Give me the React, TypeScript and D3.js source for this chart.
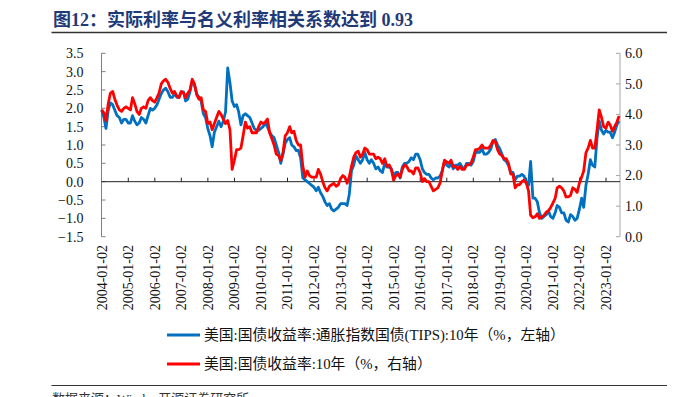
import React from "react";
import * as d3 from "d3";

const TITLE = "图12：实际利率与名义利率相关系数达到 0.93";
const SOURCE = "数据来源：Wind，开源证券研究所";
const SERIES_NAMES = [
  "美国:国债收益率:通胀指数国债(TIPS):10年（%，左轴）",
  "美国:国债收益率:10年（%，右轴）",
];
const X_TICK_LABELS = [
  "2004-01-02", "2005-01-02", "2006-01-02", "2007-01-02", "2008-01-02",
  "2009-01-02", "2010-01-02", "2011-01-02", "2012-01-02", "2013-01-02",
  "2014-01-02", "2015-01-02", "2016-01-02", "2017-01-02", "2018-01-02",
  "2019-01-02", "2020-01-02", "2021-01-02", "2022-01-02", "2023-01-02",
];
const LEFT_TICKS = [3.5, 3.0, 2.5, 2.0, 1.5, 1.0, 0.5, 0.0, -0.5, -1.0, -1.5];
const RIGHT_TICKS = [6, 5, 4, 3, 2, 1, 0];

// monthly observations starting 2004-01
const START_MONTH = "2004-01-01";

// 10Y TIPS real yield (left axis)
const tipsValues = [
  1.95, 1.75, 1.45, 1.95, 2.15, 2.1, 1.95, 1.8, 1.75, 1.6, 1.7, 1.7,
  1.6, 1.6, 1.8, 1.65, 1.55, 1.6, 1.75, 1.7, 1.6, 1.8, 2.0, 1.95,
  2.0, 2.1, 2.25, 2.4, 2.5, 2.55, 2.45, 2.3, 2.3, 2.4, 2.3, 2.3,
  2.45, 2.45, 2.2, 2.25, 2.45, 2.75, 2.65, 2.4, 2.3, 2.2, 1.85, 1.75,
  1.45, 1.25, 0.95, 1.35, 1.5, 1.65, 1.5, 1.65, 1.9, 3.1, 2.7, 2.2,
  2.05, 2.1, 1.9, 1.55, 1.8, 1.85, 1.8, 1.75, 1.6, 1.45, 1.4, 1.4,
  1.45, 1.5, 1.6, 1.5, 1.35, 1.25, 1.2, 1.0, 0.8, 0.5, 0.75, 1.05,
  1.15, 1.2, 1.0, 0.95, 0.85, 0.85, 0.65, 0.1, 0.05, 0.0, -0.05, -0.1,
  -0.15, -0.25, -0.15, -0.3, -0.4, -0.55, -0.65, -0.6, -0.75, -0.8, -0.75, -0.7,
  -0.6, -0.6, -0.6, -0.65, -0.35, 0.3, 0.45, 0.7, 0.6, 0.5, 0.6, 0.8,
  0.6, 0.5, 0.6, 0.5, 0.35, 0.4, 0.3, 0.25, 0.5, 0.4, 0.4, 0.35,
  0.15, 0.25, 0.25, 0.1, 0.4, 0.5, 0.5, 0.55, 0.65, 0.6, 0.75, 0.75,
  0.6, 0.35, 0.25, 0.2, 0.2, 0.1, 0.05, 0.1, 0.1, 0.15, 0.3, 0.55,
  0.45, 0.4, 0.5, 0.35, 0.45, 0.45, 0.5, 0.4, 0.35, 0.5, 0.5, 0.45,
  0.55, 0.8, 0.8, 0.8, 0.9, 0.75, 0.75, 0.8, 0.9, 1.1, 1.15, 1.0,
  0.9, 0.75, 0.6, 0.55, 0.45, 0.25, 0.25, 0.05, 0.15, 0.15, 0.2, 0.15,
  0.0, -0.1, 0.55, -0.45, -0.45, -0.55, -0.85, -1.0, -0.95, -0.9, -0.8, -0.95,
  -1.0, -0.85, -0.65, -0.7, -0.85, -0.85, -1.05, -1.1, -0.9, -0.95, -1.05, -1.0,
  -0.75, -0.45, -0.7, -0.1, 0.2, 0.6, 0.45, 0.4, 1.2, 1.65, 1.4, 1.3,
  1.4, 1.35, 1.35, 1.2, 1.35, 1.55, 1.65,
];

// 10Y nominal Treasury yield (right axis)
const nominalValues = [
  4.15, 4.05, 3.8, 4.35, 4.7, 4.75, 4.5, 4.3, 4.15, 4.1, 4.2, 4.25,
  4.2, 4.15, 4.55, 4.35, 4.1, 4.0, 4.2, 4.25, 4.2, 4.45, 4.55, 4.45,
  4.4, 4.55, 4.7, 5.0, 5.1, 5.15, 5.05, 4.85, 4.7, 4.75, 4.6, 4.55,
  4.75, 4.7, 4.55, 4.7, 4.8, 5.15, 5.0, 4.65, 4.5, 4.55, 4.15, 4.1,
  3.7, 3.75, 3.5, 3.7, 3.9, 4.1, 4.0, 3.85, 3.7, 3.8, 3.5, 2.2,
  2.5, 2.85, 2.85, 2.9, 3.3, 3.75, 3.55, 3.6, 3.4, 3.4, 3.4, 3.6,
  3.75, 3.7, 3.75, 3.85, 3.4, 3.2, 3.0, 2.7, 2.65, 2.5, 2.75, 3.3,
  3.4, 3.6, 3.4, 3.45, 3.15, 3.0, 3.0, 2.3, 1.95, 2.15, 2.0, 1.95,
  1.95, 1.95, 2.2, 2.05, 1.8, 1.6, 1.5, 1.65, 1.7, 1.75, 1.65, 1.7,
  1.9, 2.0, 1.95, 1.75, 1.95, 2.3, 2.6, 2.75, 2.8, 2.6, 2.7, 2.9,
  2.85, 2.7, 2.7, 2.7, 2.55, 2.6, 2.55, 2.4, 2.55, 2.3, 2.35, 2.2,
  1.85, 2.0, 2.05, 1.95, 2.2, 2.35, 2.3, 2.15, 2.15, 2.05, 2.25, 2.25,
  2.1, 1.8, 1.9, 1.8, 1.8, 1.65, 1.5, 1.55, 1.6, 1.75, 2.15, 2.5,
  2.45, 2.4, 2.5, 2.3, 2.3, 2.2, 2.3, 2.2, 2.2, 2.35, 2.35, 2.4,
  2.6, 2.85, 2.85, 2.9, 3.0, 2.9, 2.9, 2.9, 3.0, 3.15, 3.1, 2.85,
  2.7, 2.65, 2.55, 2.55, 2.4, 2.05, 2.05, 1.6, 1.7, 1.7, 1.8, 1.85,
  1.75, 1.5, 0.7, 0.62, 0.65, 0.75, 0.6, 0.65, 0.7, 0.8, 0.85, 0.95,
  1.1, 1.25, 1.6, 1.65, 1.6, 1.5, 1.3, 1.3, 1.35, 1.6, 1.55, 1.45,
  1.75, 1.95, 2.15, 2.75, 2.9, 3.15, 2.9, 2.9, 3.5, 4.15, 3.9, 3.6,
  3.55, 3.75, 3.65, 3.45, 3.6, 3.75, 3.95,
];

const BLUE = "#0070C0";
const RED = "#FF0000";
const SERIF = "'Liberation Serif', 'Noto Sans CJK SC', serif";

export default function App() {
  const W = 675;
  const H = 397;
  const left = 101.5;
  const right = 620;
  const top = 53.3;
  const bottom = 236.7;

  const parse = d3.timeParse("%Y-%m-%d");
  const tickDates = X_TICK_LABELS.map((s) => parse(s) as Date);
  const x = d3
    .scaleTime()
    .domain([tickDates[0], tickDates[tickDates.length - 1]])
    .range([left + 0.2, 606]);
  const yL = d3.scaleLinear().domain([-1.5, 3.5]).range([bottom, top]);
  const yR = d3.scaleLinear().domain([0, 6]).range([bottom, top]);

  const start = parse(START_MONTH) as Date;
  const months = d3.timeMonth.range(start, d3.timeMonth.offset(start, tipsValues.length));

  const tipsLine = d3
    .line<number>()
    .x((_, i) => x(months[i]))
    .y((d) => yL(d));
  const nomLine = d3
    .line<number>()
    .x((_, i) => x(months[i]))
    .y((d) => yR(d));

  const y0 = yL(0);

  return (
    <svg
      width={W}
      height={H}
      style={{ position: "absolute", left: 0, top: 0, background: "#fff" }}
      fontFamily={SERIF}
    >
      <rect x={0} y={0} width={W} height={H} fill="#fff" />
      <text
        x={53}
        y={26}
        fontSize={18}
        fontWeight="bold"
        fill="#1F3A78"
        fontFamily={SERIF}
      >
        {TITLE}
      </text>
      <line x1={51.5} x2={667} y1={32.5} y2={32.5} stroke="#333" strokeWidth={1.3} />

      {/* left axis */}
      <line x1={left} x2={left} y1={top} y2={bottom} stroke="#7f7f7f" strokeWidth={1} />
      {LEFT_TICKS.map((t) => (
        <g key={"l" + t}>
          <line x1={left} x2={left + 4} y1={yL(t)} y2={yL(t)} stroke="#7f7f7f" />
          <text
            x={83.5}
            y={yL(t)}
            dy="0.35em"
            textAnchor="end"
            fontSize={14}
            fill="#111"
          >
            {d3.format(".1f")(t)}
          </text>
        </g>
      ))}

      {/* right axis */}
      <line x1={right} x2={right} y1={top} y2={bottom} stroke="#a6a6a6" strokeWidth={1} />
      {RIGHT_TICKS.map((t) => (
        <g key={"r" + t}>
          <line x1={right - 4} x2={right} y1={yR(t)} y2={yR(t)} stroke="#a6a6a6" />
          <text x={625} y={yR(t)} dy="0.35em" textAnchor="start" fontSize={14} fill="#111">
            {d3.format(".1f")(t)}
          </text>
        </g>
      ))}

      {/* zero line with ticks */}
      <line x1={left} x2={right} y1={y0} y2={y0} stroke="#222" strokeWidth={1} />
      {tickDates.map((d, i) =>
        i === 0 ? null : (
          <line key={"xt" + i} x1={x(d)} x2={x(d)} y1={y0} y2={y0 - 4} stroke="#222" />
        )
      )}

      {/* x labels */}
      {tickDates.map((d, i) => (
        <text
          key={"xl" + i}
          transform={`translate(${x(d)},245) rotate(-90)`}
          dy="0.35em"
          textAnchor="end"
          fontSize={14}
          fill="#111"
        >
          {X_TICK_LABELS[i]}
        </text>
      ))}

      {/* series */}
      <path
        d={tipsLine(tipsValues) || ""}
        fill="none"
        stroke={BLUE}
        strokeWidth={2.8}
        strokeLinejoin="round"
      />
      <path
        d={nomLine(nominalValues) || ""}
        fill="none"
        stroke={RED}
        strokeWidth={2.8}
        strokeLinejoin="round"
      />

      {/* legend */}
      <line x1={167} x2={200} y1={335} y2={335} stroke={BLUE} strokeWidth={3} />
      <text x={204} y={335} dy="0.35em" fontSize={14.8} fill="#111">
        {SERIES_NAMES[0]}
      </text>
      <line x1={167} x2={200} y1={364} y2={364} stroke={RED} strokeWidth={3} />
      <text x={204} y={364} dy="0.35em" fontSize={14.8} fill="#111">
        {SERIES_NAMES[1]}
      </text>

      <line x1={51.5} x2={667} y1={385.5} y2={385.5} stroke="#333" strokeWidth={1} />
      <text x={52} y={403} fontSize={13} fill="#333">
        {SOURCE}
      </text>
    </svg>
  );
}
